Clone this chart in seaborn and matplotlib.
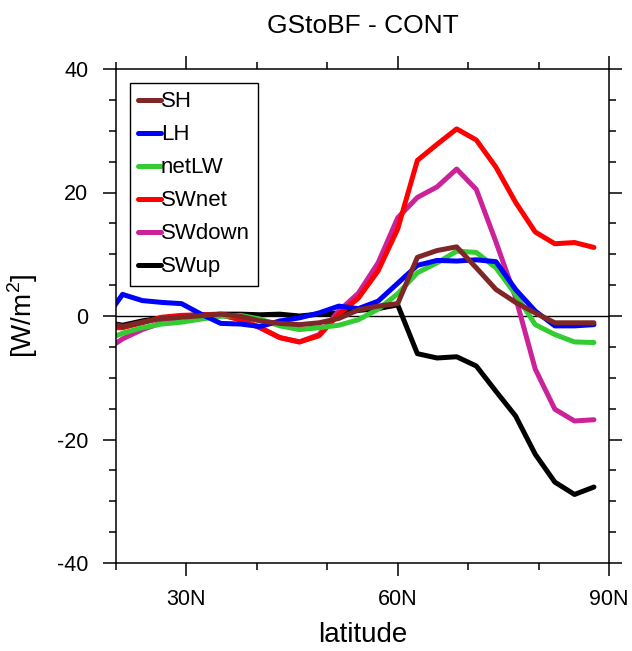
import numpy as np
import pandas as pd
import seaborn as sns
import matplotlib.pyplot as plt
from matplotlib.ticker import FixedLocator, MultipleLocator

sns.set_style("ticks")
plt.rcParams["font.family"] = ["Liberation Sans", "DejaVu Sans"]
plt.rcParams["axes.unicode_minus"] = False
plt.rcParams["mathtext.fontset"] = "custom"
plt.rcParams["mathtext.rm"] = "Liberation Sans"
for k in ["text.color", "axes.labelcolor", "xtick.color", "ytick.color", "axes.edgecolor"]:
    plt.rcParams[k] = "black"

# ── data (zonal-mean surface flux differences, W/m2) ──────────
lat = [18.14, 20.93, 23.72, 26.51, 29.30, 32.09, 34.88, 37.67, 40.47,
       43.26, 46.05, 48.84, 51.63, 54.42, 57.21, 60.00, 62.79, 65.58,
       68.37, 71.16, 73.95, 76.74, 79.53, 82.31, 85.10, 87.86]

sh = [-0.8, -1.7, -1.0, -0.4, -0.2, 0.05, 0.3, -0.05, -0.8, -1.2, -1.4, -1.1,
      -0.4, 1.0, 1.6, 2.0, 9.5, 10.6, 11.2, 7.8, 4.3, 2.2, 0.5, -1.1, -1.1, -1.1]
lh = [-1.0, 3.5, 2.5, 2.2, 2.0, 0.3, -1.2, -1.3, -1.7, -0.8, -0.3, 0.5,
      1.6, 1.2, 2.4, 5.3, 8.2, 9.0, 8.9, 9.1, 8.8, 4.3, 0.8, -1.6, -1.6, -1.4]
netlw = [-4.0, -2.8, -1.9, -1.3, -1.0, -0.5, -0.05, 0.1, -0.5, -1.6, -2.2, -1.9,
         -1.5, -0.6, 1.1, 3.6, 7.0, 8.6, 10.5, 10.3, 7.8, 3.5, -1.4, -3.0, -4.2, -4.3]
swnet = [-1.9, -1.9, -1.1, -0.2, 0.1, 0.2, 0.2, -0.6, -1.9, -3.5, -4.2, -3.2,
         0.3, 2.9, 7.3, 14.1, 25.2, 27.8, 30.3, 28.5, 24.1, 18.4, 13.6, 11.7, 11.9, 11.1]
swdown = [-5.8, -3.7, -2.2, -1.1, -0.1, 0.2, 0.2, -0.6, -1.9, -3.5, -4.2, -3.0,
          0.8, 3.7, 8.6, 15.9, 19.2, 20.9, 23.8, 20.5, 12.0, 3.0, -8.6, -15.1, -17.0, -16.8]
swup = [-0.9, -1.5, -0.8, -0.3, 0.0, 0.2, 0.3, 0.3, 0.2, 0.3, 0.0, 0.3,
        0.5, 0.9, 1.2, 1.8, -6.1, -6.8, -6.6, -8.1, -12.2, -16.2, -22.4, -26.9, -28.9, -27.7]

names = ["SH", "LH", "netLW", "SWnet", "SWdown", "SWup"]
series = [sh, lh, netlw, swnet, swdown, swup]
colors = ["#7f2626", "#0000ff", "#33cc33", "#ff0000", "#cc2299", "#000000"]

df = pd.DataFrame({"lat": lat})
for n, s in zip(names, series):
    df[n] = s

fig = plt.figure(figsize=(6.32, 6.51), dpi=100)
ax = fig.add_axes([116 / 632, 1 - 563 / 651, 493 / 632, 494 / 651])

# draw last series first so SH ends up on top
handles = {}
for n, c in reversed(list(zip(names, colors))):
    sns.lineplot(data=df, x="lat", y=n, color=c, linewidth=3.6, ax=ax, label=n)
    handles[n] = ax.get_lines()[-1]

ax.axhline(0, color="black", linewidth=1.0, zorder=1)

ax.set_xlim(20, 90)
ax.set_ylim(-40, 40)
ax.xaxis.set_major_locator(FixedLocator([30, 60, 90]))
ax.xaxis.set_minor_locator(MultipleLocator(10))
ax.set_xticklabels(["30N", "60N", "90N"])
ax.yaxis.set_major_locator(MultipleLocator(20))
ax.yaxis.set_minor_locator(MultipleLocator(5))

for s in ax.spines.values():
    s.set_visible(True)
    s.set_linewidth(1.1)
    s.set_color("black")
ax.tick_params(which="both", direction="out", top=True, right=True,
               width=1.1, colors="black", labelsize=15.5)
ax.tick_params(which="major", length=9.4)
ax.tick_params(which="minor", length=5)
ax.tick_params(axis="x", which="major", pad=9)
ax.tick_params(axis="y", which="major", pad=10.5)

ax.set_xlabel("latitude", fontsize=20, labelpad=9)
ax.set_ylabel(r"[W/m$^\mathrm{2}$]", fontsize=20, labelpad=12)

fig.text(362.5 / 632, 1 - 26 / 651, "GStoBF - CONT", ha="center",
         va="center", fontsize=19, color="black")

leg = ax.legend([handles[n] for n in names], names, loc="upper left",
                bbox_to_anchor=(0.0284, 0.9717), borderaxespad=0,
                frameon=True, fancybox=False, edgecolor="black",
                framealpha=1, fontsize=16, handlelength=1.0,
                handletextpad=0.0, labelspacing=0.54, borderpad=0.38)
leg.get_frame().set_linewidth(1.0)

fig.savefig("out.png", dpi=100)
